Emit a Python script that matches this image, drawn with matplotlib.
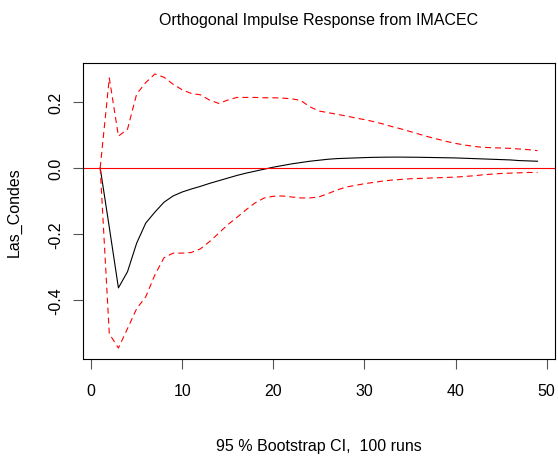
import matplotlib
matplotlib.use("Agg")
import matplotlib.pyplot as plt
import numpy as np

plt.rcParams['font.family'] = ['Liberation Sans', 'DejaVu Sans']
plt.rcParams['lines.scale_dashes'] = False

steps = list(range(1, 50))
irf = [0.0, -0.18, -0.363, -0.314, -0.228, -0.167, -0.134, -0.104, -0.085, -0.073,
       -0.064, -0.056, -0.047, -0.039, -0.031, -0.023, -0.016, -0.010, -0.004, 0.002,
       0.007, 0.012, 0.016, 0.020, 0.023, 0.026, 0.028, 0.029, 0.030, 0.031,
       0.0318, 0.0322, 0.0325, 0.0325, 0.0322, 0.032, 0.0315, 0.031, 0.0305, 0.030,
       0.029, 0.028, 0.027, 0.026, 0.025, 0.024, 0.022, 0.021, 0.020]
upper = [0.0, 0.272, 0.096, 0.117, 0.223, 0.258, 0.284, 0.274, 0.253, 0.236,
         0.225, 0.221, 0.205, 0.195, 0.205, 0.213, 0.213, 0.213, 0.212, 0.212,
         0.211, 0.209, 0.204, 0.185, 0.172, 0.167, 0.162, 0.157, 0.151, 0.146,
         0.140, 0.133, 0.125, 0.118, 0.110, 0.102, 0.094, 0.087, 0.080, 0.074,
         0.069, 0.065, 0.062, 0.061, 0.060, 0.059, 0.057, 0.055, 0.052]
lower = [0.0, -0.502, -0.545, -0.486, -0.426, -0.390, -0.324, -0.272, -0.258, -0.258,
         -0.256, -0.245, -0.223, -0.198, -0.172, -0.150, -0.127, -0.106, -0.091, -0.086,
         -0.085, -0.088, -0.091, -0.091, -0.088, -0.078, -0.067, -0.058, -0.053, -0.048,
         -0.044, -0.040, -0.037, -0.035, -0.033, -0.032, -0.031, -0.030, -0.029, -0.028,
         -0.026, -0.024, -0.021, -0.019, -0.017, -0.016, -0.015, -0.014, -0.014]
xticks = [0, 10, 20, 30, 40, 50]
yticks = [-0.4, -0.2, 0.0, 0.2]
ytick_labels = ["-0.4", "-0.2", "0.0", "0.2"]

fs = 11.5
fig = plt.figure(figsize=(5.58, 4.60), dpi=100)
ax = fig.add_axes([82.7/558, 100/460, (555-82.7)/558, (360-64)/460])

ax.plot(steps, irf, color='black', lw=0.8)
ax.plot(steps, upper, color='#ff0000', lw=0.8, linestyle=(0, (4.3, 2.9)))
ax.plot(steps, lower, color='#ff0000', lw=0.8, linestyle=(0, (4.3, 2.9)))
ax.axhline(0, color='#ff0000', lw=0.8)

# R-style 4% padding
xmin, xmax = min(steps), max(steps)
xr = xmax - xmin
ax.set_xlim(xmin - 0.04*xr, xmax + 0.04*xr)
ymin, ymax = min(lower), max(upper)
yr = ymax - ymin
ax.set_ylim(ymin - 0.04*yr, ymax + 0.04*yr)

ax.set_xticks(xticks)
ax.set_xticklabels([str(t) for t in xticks], fontsize=fs)
ax.set_yticks(yticks)
ax.set_yticklabels(ytick_labels, fontsize=fs, rotation=90, va='center')
ax.tick_params(axis='both', length=7, width=0.8, color='#555555', direction='out')
ax.tick_params(axis='x', pad=10)
ax.tick_params(axis='y', pad=7)
for s in ax.spines.values():
    s.set_linewidth(0.8)
    s.set_color('black')

ax.set_title("Orthogonal Impulse Response from IMACEC", fontsize=fs, pad=28)
ax.set_xlabel("95 % Bootstrap CI,  100 runs", fontsize=fs, labelpad=29)
ax.set_ylabel("Las_Condes", fontsize=fs, labelpad=19)

fig.savefig("out.png", dpi=100)
